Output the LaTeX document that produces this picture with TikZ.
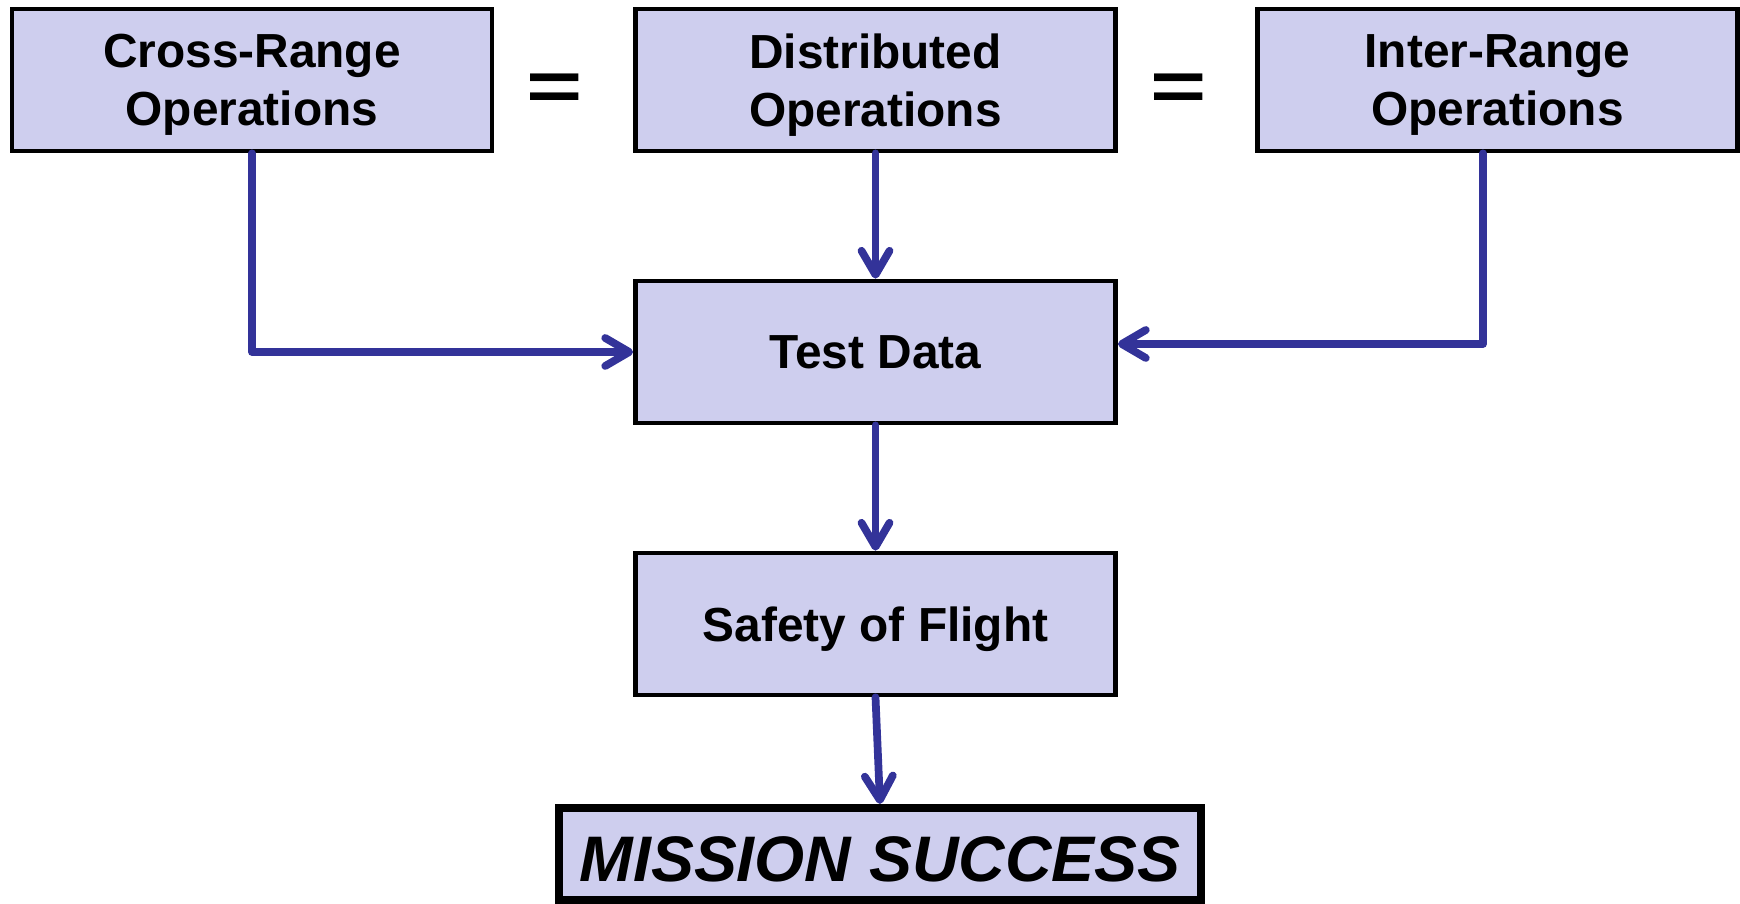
\documentclass[tikz,border=0pt]{standalone}
\usepackage{fontspec}
\setmainfont{Liberation Sans}
\usetikzlibrary{arrows.meta}
\definecolor{boxfill}{RGB}{206,206,238}
\definecolor{flowblue}{RGB}{51,51,153}
\begin{document}
\begin{tikzpicture}[x=0.01cm,y=-0.01cm,>={Straight Barb[length=0.24cm,width=0.28cm,round]},
	  opbox/.style={draw,line width=1.3pt,fill=boxfill,minimum width=4.8cm,minimum height=1.42cm,align=center,
	    text depth=0pt,font=\bfseries\fontsize{13.6}{16.4}\selectfont},
	  eqsign/.style={font=\bfseries\fontsize{20}{20}\selectfont},
	  flow/.style={->,draw=flowblue,line width=2.2pt,line cap=round,line join=round}]
	  \useasboundingbox (0,0) rectangle (1740,904);
	  \node[opbox] (cross) at (252,80) {Cross-Range\\Operations};
	  \node[opbox] (dist) at (875.5,80) {Distributed\\Operations};
	  \node[opbox] (inter) at (1497.5,80) {Inter-Range\\Operations};
	  \node[eqsign] (eq1) at (555,92) {\scalebox{1.37}[1]{=}};
	  \node[eqsign] (eq2) at (1179,92) {\scalebox{1.37}[1]{=}};
	  \node[opbox] (test) at (875.5,352) {Test Data};
	  \node[opbox] (safety) at (875.5,624) {Safety of Flight};
	  \node[opbox,line width=2.3pt,minimum width=6.42cm,minimum height=0.92cm,text height=15.8pt,
	    font=\bfseries\itshape\fontsize{18.3}{22}\selectfont] (mission) at (880,854) {MISSION SUCCESS};
	  \draw[flow] (cross.south) |- (test.west);
	  \draw[flow] (dist.south) -- (test.north);
	  \draw[flow] ([xshift=-0.145cm]inter.south) |- ([yshift=0.08cm]test.east);
	  \draw[flow] (test.south) -- (safety.north);
	  \draw[flow] (safety.south) -- (mission.north);
	\end{tikzpicture}
\end{document}
